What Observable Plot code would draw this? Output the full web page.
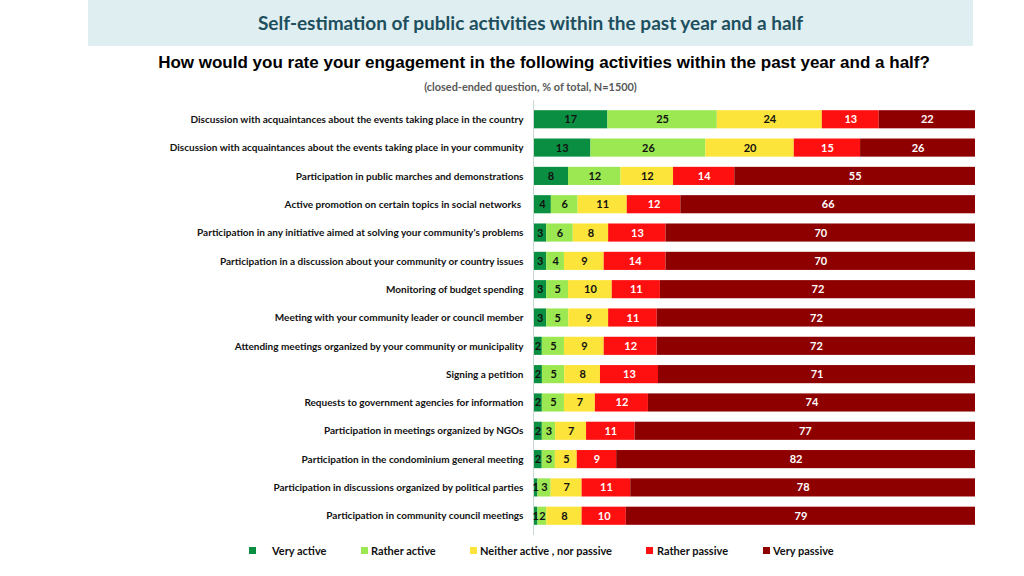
<!DOCTYPE html>
<html><head><meta charset="utf-8">
<script src="https://cdn.jsdelivr.net/npm/d3@7"></script>
<script src="https://cdn.jsdelivr.net/npm/@observablehq/plot@0.6"></script>
<style>
body{margin:0;width:1024px;height:576px;background:#fff;position:relative;overflow:hidden;font-family:Lato,"Open Sans",sans-serif}
#head{position:absolute;left:0;top:0;width:1024px;height:99px}
#band{position:absolute;left:88px;top:0;width:885px;height:46px;background:#dfeef0}
#title{position:absolute;left:88px;width:885px;top:11px;text-align:center;font:bold 19px Lato,sans-serif;color:#1d4f5e}
#sub{position:absolute;left:88px;width:912px;top:53px;text-align:center;font:bold 17px "Liberation Sans",Arial,sans-serif;color:#000}
#note{position:absolute;left:88px;width:885px;top:80px;text-align:center;font:bold 10.9px Lato,sans-serif;color:#595959}
#chart{position:absolute;left:0;top:100px}
#chart svg{display:block}
#legend{position:absolute;top:544px;left:0;width:1024px;height:14px;font:bold 11px Lato,sans-serif;color:#111}
.li{position:absolute;top:0;white-space:nowrap}
.sw{position:absolute;top:3px;width:7px;height:7px}
</style></head><body>
<div id="head"><div id="band"></div><div id="title">Self-estimation of public activities within the past year and a half</div>
<div id="sub">How would you rate your engagement in the following activities within the past year and a half?</div>
<div id="note">(closed-ended question, % of total, N=1500)</div></div>
<div id="chart"></div>
<div id="legend"></div>
<script>
const categories = [
 "Discussion with acquaintances about the events taking place in the country",
 "Discussion with acquaintances about the events taking place in your community",
 "Participation in public marches and demonstrations",
 "Active promotion on certain topics in social networks ",
 "Participation in any initiative aimed at solving your community's problems",
 "Participation in a discussion about your community or country issues",
 "Monitoring of budget spending",
 "Meeting with your community leader or council member",
 "Attending meetings organized by your community or municipality",
 "Signing a petition",
 "Requests to government agencies for information",
 "Participation in meetings organized by NGOs",
 "Participation in the condominium general meeting",
 "Participation in discussions organized by political parties",
 "Participation in community council meetings"
];
const seriesNames = ["Very active","Rather active","Neither active , nor passive","Rather passive","Very passive"];
const veryActive    = [17,13,8,4,3,3,3,3,2,2,2,2,2,1,1];
const ratherActive  = [25,26,12,6,6,4,5,5,5,5,5,3,3,3,2];
const neither       = [24,20,12,11,8,9,10,9,9,8,7,7,5,7,8];
const ratherPassive = [13,15,14,12,13,14,11,11,12,13,12,11,9,11,10];
const veryPassive   = [22,26,55,66,70,70,72,72,72,71,74,77,82,78,79];
const colors = ["#0a8f42","#9be852","#fde43a","#ff1010","#8e0000"];
const textColors = ["#111","#111","#111","#fff","#fff"];

const seriesValues = [veryActive, ratherActive, neither, ratherPassive, veryPassive];
const data = [];
categories.forEach((c,i)=>seriesNames.forEach((s,j)=>data.push({category:c, series:s, value:seriesValues[j][i], tc:textColors[j]})));

const chart = Plot.plot({
  width:1024, height:435,
  marginTop:0, marginBottom:0, marginLeft:533, marginRight:49,
  x:{axis:null, domain:[0,1]},
  y:{domain:categories, padding:0.36, round:false, label:null, axis:null},
  color:{domain:seriesNames, range:colors},
  style:{fontFamily:"Lato, sans-serif"},
  marks:[
    Plot.barX(data, Plot.stackX({x:"value", y:"category", fill:"series", offset:"normalize"})),
    Plot.ruleX([0], {stroke:"#c8d8d0"}),
    Plot.text(data, Plot.stackX({x:"value", y:"category", z:"series", text:"value", fill:"tc", offset:"normalize", fontWeight:"bold", fontSize:11})),
    Plot.axisY({tickSize:0, tickPadding:10, fontSize:10, fontWeight:"bold", fill:"#111", label:null})
  ]
});
document.getElementById("chart").appendChild(chart);

const lx = [[249,272],[361,371],[470,480],[646,657],[763,773]];
const leg = document.getElementById("legend");
seriesNames.forEach((s,i)=>{
  const sw=document.createElement("div"); sw.className="sw"; sw.style.left=lx[i][0]+"px"; sw.style.background=colors[i]; leg.appendChild(sw);
  const t=document.createElement("div"); t.className="li"; t.style.left=lx[i][1]+"px"; t.textContent=s; leg.appendChild(t);
});
</script></body></html>
